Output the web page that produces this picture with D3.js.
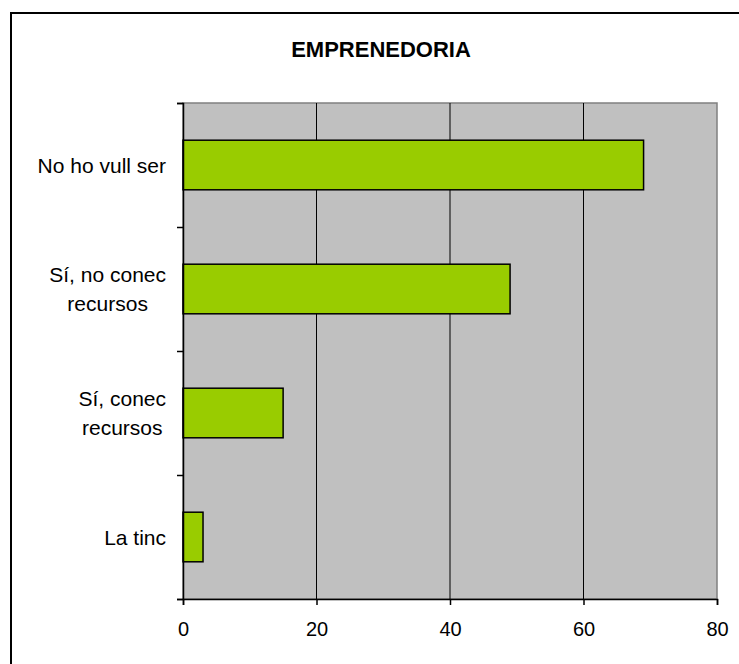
<!DOCTYPE html>
<html>
<head>
<meta charset="utf-8">
<script src="https://cdn.jsdelivr.net/npm/d3@7"></script>
<style>
  body { margin: 0; background: #fff; }
  text { font-family: "Liberation Sans", Arial, sans-serif; fill: #000; }
</style>
</head>
<body>
<div id="chart"></div>
<script>
// data
var categories = [["No ho vull ser"], ["Sí, no conec", "recursos"], ["Sí, conec", "recursos"], ["La tinc"]];
var values = [69, 49, 15, 3];
var xTicks = [0, 20, 40, 60, 80];
var title = "EMPRENEDORIA";

var W = 739, H = 664;
var plot = {left: 183, top: 103, right: 717, bottom: 599};

var svg = d3.select("#chart").append("svg")
  .attr("width", W)
  .attr("height", H);

// outer frame (runs off the right and bottom edge)
svg.append("rect")
  .attr("x", 11).attr("y", 13)
  .attr("width", 800).attr("height", 800)
  .attr("fill", "none")
  .attr("stroke", "#000")
  .attr("stroke-width", 2);

svg.append("text")
  .attr("x", 381).attr("y", 57)
  .attr("text-anchor", "middle")
  .style("font-size", "22px")
  .style("font-weight", "bold")
  .text(title);

var x = d3.scaleLinear().domain([0, 80]).range([plot.left, plot.right]);
var y = d3.scaleBand()
  .domain(d3.range(categories.length))
  .range([plot.top, plot.bottom])
  .paddingInner(0.6)
  .paddingOuter(0.3);

// plot background
svg.append("rect")
  .attr("x", plot.left).attr("y", plot.top)
  .attr("width", plot.right - plot.left)
  .attr("height", plot.bottom - plot.top)
  .attr("fill", "#c0c0c0")
  .attr("stroke", "#808080")
  .attr("stroke-width", 1.5);

// gridlines
svg.append("g").selectAll("line")
  .data(xTicks.slice(1, -1))
  .enter().append("line")
    .attr("x1", function(d) { return x(d); })
    .attr("x2", function(d) { return x(d); })
    .attr("y1", plot.top)
    .attr("y2", plot.bottom)
    .attr("stroke", "#000")
    .attr("stroke-width", 1);

// bars
svg.append("g").selectAll("rect")
  .data(values)
  .enter().append("rect")
    .attr("x", x(0))
    .attr("y", function(d, i) { return y(i); })
    .attr("width", function(d) { return x(d) - x(0); })
    .attr("height", y.bandwidth())
    .attr("fill", "#99cc00")
    .attr("stroke", "#000")
    .attr("stroke-width", 1.5);

// x axis
var xAxis = svg.append("g")
  .attr("transform", "translate(0," + plot.bottom + ")")
  .call(d3.axisBottom(x).tickValues(xTicks).tickSize(6).tickPadding(17));
xAxis.select(".domain").attr("stroke", "#000").attr("stroke-width", 1.5);
xAxis.selectAll(".tick line").attr("stroke", "#000").attr("stroke-width", 1.5);
xAxis.selectAll(".tick text")
  .style("font-size", "20px")
  .attr("font-family", null);

// y axis: ticks on the category boundaries
var yLine = d3.scaleLinear().domain([0, categories.length]).range([plot.top, plot.bottom]);
var yAxis = svg.append("g")
  .attr("transform", "translate(" + plot.left + ",0)")
  .call(d3.axisLeft(yLine).ticks(categories.length).tickSize(6).tickFormat(""));
yAxis.select(".domain").attr("stroke", "#000").attr("stroke-width", 1.5);
yAxis.selectAll(".tick line").attr("stroke", "#000").attr("stroke-width", 1.5);

// category labels, lines centered on each other, block right aligned
var lineH = 29;
categories.forEach(function(lines, i) {
  var cy = y(i) + y.bandwidth() / 2;
  var g = svg.append("g");
  var texts = lines.map(function(t, j) {
    return g.append("text")
      .attr("y", cy + (j - (lines.length - 1) / 2) * lineH + 7.5)
      .attr("text-anchor", "middle")
      .style("font-size", "21px")
      .text(t);
  });
  var maxW = d3.max(texts, function(t) { return t.node().getComputedTextLength(); });
  texts.forEach(function(t) { t.attr("x", 166 - maxW / 2); });
});
</script>
</body>
</html>
